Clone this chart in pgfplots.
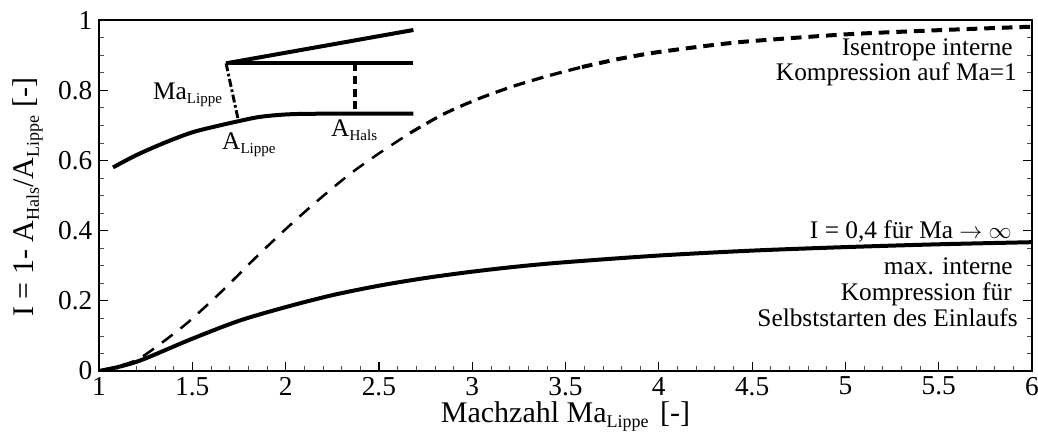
\documentclass[border=0pt]{standalone}
\usepackage{pgfplots}
\pgfplotsset{compat=1.18}
\usepackage{fontspec}
\setmainfont{Liberation Serif}
\newcommand\tsub[1]{\raisebox{-0.35ex}{\fontsize{13.5}{13.5}\selectfont #1}}
\newcommand\asub[1]{\raisebox{-0.35ex}{\fontsize{11.3}{11.3}\selectfont #1}}
\newcommand\anno{\fontsize{19}{21}\selectfont}
\begin{document}
\begin{tikzpicture}
\path[use as bounding box] (0,0) rectangle (778.5pt,324.75pt);
\begin{axis}[
  at={(74.25pt,46.5pt)}, anchor=south west,
  scale only axis, width=699.75pt, height=263.25pt,
  xmin=1, xmax=6, ymin=0, ymax=1,
  xtick={1,1.5,...,6}, ytick={0,0.2,0.4,0.6,0.8,1},
  minor x tick num=4, minor y tick num=3,
  xtick pos=bottom, ytick pos=both,
  tick align=inside,
  major tick length=6.5pt, minor tick length=3.8pt,
  major tick style={line width=0.9pt,black},
  minor tick style={line width=0.45pt,black!70},
  axis line style={line width=1.1pt,black},
  /pgf/number format/assume math mode=true,
  tick label style={font=\fontsize{20.5}{20.5}\selectfont},
  xticklabel style={yshift=-1pt},
  yticklabel style={xshift=-1.5pt},
  xlabel={Machzahl Ma\tsub{Lippe}\hspace{3pt} [-]},
  ylabel={I = 1- A\tsub{Hals}/A\tsub{Lippe} [-]},
  label style={font=\fontsize{22.5}{22.5}\selectfont},
  xlabel style={at={(axis description cs:0.5,-0.148)},anchor=base},
  ylabel style={at={(axis description cs:-0.0697,0.495)},anchor=base},
]
% isentrope: dashed, fine in the lower part
\addplot[black, line width=1.9pt, smooth, dash pattern=on 10pt off 7.5pt] coordinates {
 (1,0) (1.1,0.013) (1.2,0.031) (1.3,0.066) (1.46,0.131) (1.559,0.178) (1.648,0.222) (1.738,0.269)
 (1.826,0.316) (1.916,0.362) (2.0,0.404) (2.1,0.452) (2.193,0.495) (2.283,0.535) (2.372,0.572) (2.506,0.622) (2.667,0.678)};
\addplot[black, line width=2.4pt, smooth, dash pattern=on 9pt off 5.25pt] coordinates {
 (2.667,0.678) (2.843,0.731) (3.031,0.775) (3.219,0.811) (3.401,0.84) (3.588,0.866)};
\addplot[black, line width=3pt, smooth, dash pattern=on 8pt off 5.2pt] coordinates {
 (3.588,0.866) (3.776,0.888) (3.953,0.905) (4.13,0.918) (4.312,0.93) (4.5,0.94)
 (5,0.959) (5.5,0.971) (6,0.981)};
% self-starting limit
\addplot[black, line width=3pt, smooth] coordinates {
 (1,0) (1.1,0.011) (1.2,0.026) (1.3,0.047) (1.5,0.092) (1.75,0.143) (2,0.182) (2.25,0.216)
 (2.5,0.243) (2.75,0.265) (3,0.283) (3.25,0.298) (3.5,0.31) (4,0.329) (4.5,0.343)
 (5,0.353) (5.5,0.361) (6,0.367)};
% inlet sketch
\addplot[black, line width=3pt, smooth] coordinates {
 (1.075,0.58) (1.2,0.615) (1.35,0.65) (1.5,0.68) (1.65,0.7) (1.75,0.712) (1.85,0.723) (1.95,0.729)
 (2.05,0.732) (2.2,0.733) (2.685,0.733)};
\addplot[black, line width=3pt] coordinates {(1.681,0.8766) (2.685,0.9715)};
\addplot[black, line width=3pt] coordinates {(1.681,0.8766) (2.685,0.8766)};
\addplot[black, line width=2.4pt, dash pattern=on 6pt off 3.5pt] coordinates {(2.372,0.8766) (2.372,0.7322)};
\addplot[black, line width=2.2pt, dash pattern=on 6pt off 2pt on 2pt off 2pt] coordinates {(1.681,0.8766) (1.745,0.718)};
% annotations
\node[anchor=base west,inner sep=0pt,font=\anno] at (axis cs:1.289,0.774) {Ma\asub{Lippe}};
\node[anchor=base west,inner sep=0pt,font=\anno] at (axis cs:1.659,0.63) {A\asub{Lippe}};
\node[anchor=base west,inner sep=0pt,font=\anno] at (axis cs:2.243,0.667) {A\asub{Hals}};
\node[anchor=base east,inner sep=0pt,font=\anno] at (axis cs:5.898,0.9) {Isentrope interne};
\node[anchor=base east,inner sep=0pt,font=\anno] at (axis cs:5.92,0.827) {Kompression auf Ma=1};
\node[anchor=base east,inner sep=0pt,font=\anno] at (axis cs:5.893,0.378) {I = 0,4 für Ma $\rightarrow$ $\infty$};
\node[anchor=base east,inner sep=0pt,font=\anno] at (axis cs:5.898,0.276) {max. interne};
\node[anchor=base east,inner sep=0pt,font=\anno] at (axis cs:5.893,0.202) {Kompression für};
\node[anchor=base east,inner sep=0pt,font=\anno] at (axis cs:5.925,0.128) {Selbststarten des Einlaufs};
\end{axis}
\end{tikzpicture}
\end{document}
